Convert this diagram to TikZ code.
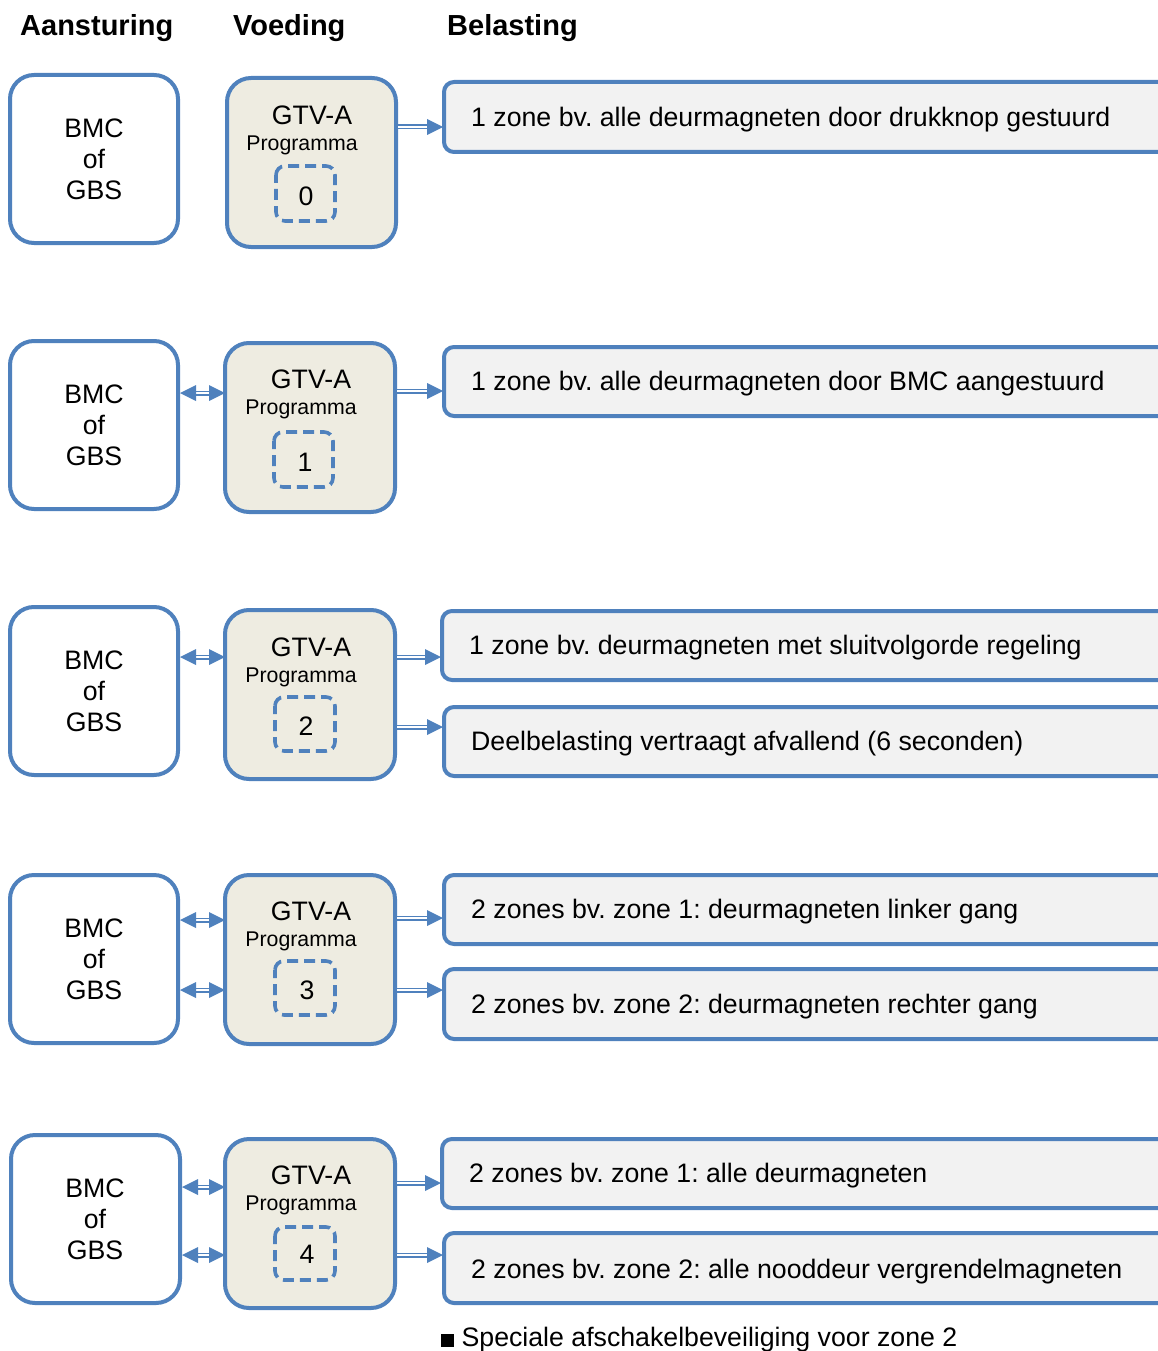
\documentclass[tikz,border=0pt]{standalone}
\usepackage{fontspec}
\setmainfont{Liberation Sans}
\frenchspacing
\definecolor{bl}{RGB}{79,129,189}
\definecolor{beige}{RGB}{238,236,225}
\definecolor{lgray}{RGB}{242,242,242}
\tikzset{
  ctrl/.style={draw=bl, line width=4pt, rounded corners=24pt, fill=white},
  psu/.style={draw=bl, line width=4pt, rounded corners=24pt, fill=beige},
  prog/.style={draw=bl, line width=3.6pt, dash pattern=on 11pt off 6pt, dash phase=3pt, rounded corners=9pt},
  load/.style={draw=bl, line width=4pt, rounded corners=10pt, fill=lgray},
  txt/.style={font=\fontsize{26.7}{30}\selectfont, inner sep=0pt},
  small/.style={font=\fontsize{21.3}{24}\selectfont, inner sep=0pt},
  hdr/.style={font=\fontsize{29}{32}\selectfont\bfseries, inner sep=0pt, anchor=west},
  dline/.style={draw=bl, line width=1.5pt, double=white, double distance=2pt},
  tipfill/.style={fill=bl}
}
% right-pointing connector between two horizontal points
\newcommand\rconn[2]{%
  \draw[dline] (#1) -- ([xshift=-14pt]#2);
  \fill[tipfill] (#2) -- ++(-16,8) -- ++(0,-16) -- cycle;}
% two-headed connector
\newcommand\bconn[2]{%
  \draw[dline] ([xshift=14pt]#1) -- ([xshift=-14pt]#2);
  \fill[tipfill] (#2) -- ++(-16,8) -- ++(0,-16) -- cycle;
  \fill[tipfill] (#1) -- ++(16,8) -- ++(0,-16) -- cycle;}
\begin{document}
\begin{tikzpicture}[x=1pt,y=-1pt]
\useasboundingbox (0,0) rectangle (1158,1351);
\begin{scope}
\clip (0,0) rectangle (1158,1351);

\node[hdr] (h1) at (20,28) {Aansturing};
\node[hdr] (h2) at (233,28) {Voeding};
\node[hdr] (h3) at (447,28) {Belasting};

% ---------- Row 1 ----------
\draw[ctrl] (10,75) rectangle (178,243);
\node[txt, align=center] (c1) at (94,159) {BMC\\[1pt]of\\[1pt]GBS};
\draw[psu] (227,78) rectangle (396,247);
\node[txt] (g1) at (312,115) {GTV-A};
\node[small] (p1) at (302,145) {Programma};
\draw[prog] (276,166) rectangle (335,221);
\node[txt] (n1) at (306,196) {0};
\draw[load] (444,82) rectangle (1175,152);
\node[txt, anchor=west] (l1) at (471,120) {1 zone bv. alle deurmagneten door drukknop gestuurd};
\coordinate (s1) at (398,127);
\coordinate (e1) at (443,127);
\rconn{s1}{e1}

% ---------- Row 2 ----------
\draw[ctrl] (10,341) rectangle (178,509);
\node[txt, align=center] (c2) at (94,425) {BMC\\[1pt]of\\[1pt]GBS};
\draw[psu] (225,343) rectangle (395,512);
\node[txt] (g2) at (311,379) {GTV-A};
\node[small] (p2) at (301,409) {Programma};
\draw[prog] (274,432) rectangle (333,487);
\node[txt] (n2) at (305,462) {1};
\draw[load] (444,347) rectangle (1175,416);
\node[txt, anchor=west] (l2) at (471,384) {1 zone bv. alle deurmagneten door BMC aangestuurd};
\coordinate (a2l) at (180,393);
\coordinate (a2r) at (225,393);
\bconn{a2l}{a2r}
\coordinate (s2) at (397,391);
\coordinate (e2) at (443,391);
\rconn{s2}{e2}

% ---------- Row 3 ----------
\draw[ctrl] (10,607) rectangle (178,775);
\node[txt, align=center] (c3) at (94,691) {BMC\\[1pt]of\\[1pt]GBS};
\draw[psu] (225,610) rectangle (395,779);
\node[txt] (g3) at (311,647) {GTV-A};
\node[small] (p3) at (301,677) {Programma};
\draw[prog] (275,697) rectangle (335,751);
\node[txt] (n3) at (306,726) {2};
\draw[load] (442,611) rectangle (1175,680);
\node[txt, anchor=west] (l3a) at (469,648) {1 zone bv. deurmagneten met sluitvolgorde regeling};
\draw[load] (444,707) rectangle (1175,776);
\node[txt, anchor=west] (l3b) at (471,744) {Deelbelasting vertraagt afvallend (6 seconden)};
\coordinate (a3l) at (180,657);
\coordinate (a3r) at (225,657);
\bconn{a3l}{a3r}
\coordinate (s3a) at (397,657);
\coordinate (e3a) at (441,657);
\rconn{s3a}{e3a}
\coordinate (s3b) at (397,727);
\coordinate (e3b) at (443,727);
\rconn{s3b}{e3b}

% ---------- Row 4 ----------
\draw[ctrl] (10,875) rectangle (178,1043);
\node[txt, align=center] (c4) at (94,959) {BMC\\[1pt]of\\[1pt]GBS};
\draw[psu] (225,875) rectangle (395,1044);
\node[txt] (g4) at (311,911) {GTV-A};
\node[small] (p4) at (301,941) {Programma};
\draw[prog] (275,961) rectangle (335,1015);
\node[txt] (n4) at (307,990) {3};
\draw[load] (444,875) rectangle (1175,944);
\node[txt, anchor=west] (l4a) at (471,912) {2 zones bv. zone 1: deurmagneten linker gang};
\draw[load] (444,969) rectangle (1175,1039);
\node[txt, anchor=west] (l4b) at (471,1007) {2 zones bv. zone 2: deurmagneten rechter gang};
\coordinate (a4l) at (180,920);
\coordinate (a4r) at (225,920);
\bconn{a4l}{a4r}
\coordinate (b4l) at (180,990);
\coordinate (b4r) at (225,990);
\bconn{b4l}{b4r}
\coordinate (s4a) at (397,918);
\coordinate (e4a) at (443,918);
\rconn{s4a}{e4a}
\coordinate (s4b) at (397,990);
\coordinate (e4b) at (443,990);
\rconn{s4b}{e4b}

% ---------- Row 5 ----------
\draw[ctrl] (11,1135) rectangle (180,1303);
\node[txt, align=center] (c5) at (95,1219) {BMC\\[1pt]of\\[1pt]GBS};
\draw[psu] (225,1139) rectangle (395,1308);
\node[txt] (g5) at (311,1175) {GTV-A};
\node[small] (p5) at (301,1205) {Programma};
\draw[prog] (275,1227) rectangle (335,1280);
\node[txt] (n5) at (307,1254) {4};
\draw[load] (442,1139) rectangle (1175,1208);
\node[txt, anchor=west] (l5a) at (469,1176) {2 zones bv. zone 1: alle deurmagneten};
\draw[load] (444,1233) rectangle (1175,1303);
\node[txt, anchor=west] (l5b) at (471,1272) {2 zones bv. zone 2: alle nooddeur vergrendelmagneten};
\coordinate (a5l) at (182,1187);
\coordinate (a5r) at (225,1187);
\bconn{a5l}{a5r}
\coordinate (b5l) at (182,1255);
\coordinate (b5r) at (225,1255);
\bconn{b5l}{b5r}
\coordinate (s5a) at (397,1183);
\coordinate (e5a) at (441,1183);
\rconn{s5a}{e5a}
\coordinate (s5b) at (397,1255);
\coordinate (e5b) at (443,1255);
\rconn{s5b}{e5b}

\node[txt, anchor=west] (foot) at (441,1340) {\rule[0pt]{13pt}{13pt} Speciale afschakelbeveiliging voor zone 2};
\end{scope}
\end{tikzpicture}
\end{document}
